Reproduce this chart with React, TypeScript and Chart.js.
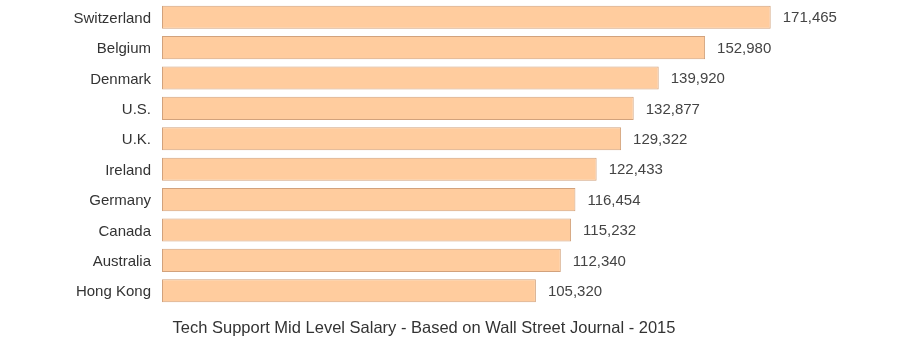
import React, { useEffect, useRef } from "react";
import { Chart, registerables } from "chart.js";

Chart.register(...registerables);

const countries = ["Switzerland", "Belgium", "Denmark", "U.S.", "U.K.", "Ireland", "Germany", "Canada", "Australia", "Hong Kong"];
const salaries = [171465, 152980, 139920, 132877, 129322, 122433, 116454, 115232, 112340, 105320];
const titleText = "Tech Support Mid Level Salary - Based on Wall Street Journal - 2015";

const valueLabels = {
  id: "valueLabels",
  afterDatasetsDraw(chart: any) {
    const ctx = chart.ctx;
    const meta = chart.getDatasetMeta(0);
    ctx.save();
    ctx.font = "15px 'Liberation Sans', Arial, sans-serif";
    ctx.fillStyle = "#444444";
    ctx.textAlign = "left";
    ctx.textBaseline = "middle";
    meta.data.forEach((bar: any, i: number) => {
      const v = chart.data.datasets[0].data[i] as number;
      ctx.fillText(v.toLocaleString("en-US"), bar.x + 12, bar.y + 1);
    });
    ctx.restore();
  },
};

const bottomTitle = {
  id: "bottomTitle",
  afterDraw(chart: any) {
    const ctx = chart.ctx;
    ctx.save();
    ctx.font = "16.5px 'Liberation Sans', Arial, sans-serif";
    ctx.fillStyle = "#333333";
    ctx.textAlign = "center";
    ctx.textBaseline = "middle";
    ctx.fillText(titleText, 424, 328);
    ctx.restore();
  },
};

export default function App() {
  const ref = useRef<HTMLCanvasElement>(null);
  useEffect(() => {
    document.body.style.margin = "0";
    const chart = new Chart(ref.current!, {
      type: "bar",
      data: {
        labels: countries,
        datasets: [
          {
            data: salaries,
            backgroundColor: "#FFCC9E",
            borderColor: "#D2A27C",
            borderWidth: 1,
            borderSkipped: false,
            categoryPercentage: 1,
            barPercentage: 0.76,
          },
        ],
      },
      options: {
        indexAxis: "y",
        animation: false,
        responsive: false,
        maintainAspectRatio: false,
        layout: { padding: { top: 2, right: 29, bottom: 40, left: 0 } },
        plugins: {
          legend: { display: false },
          tooltip: { enabled: false },
          title: { display: false },
        },
        scales: {
          x: { display: false, min: 0, max: 200000 },
          y: {
            afterFit(scale: any) {
              scale.width = 162;
              scale.paddingTop = 0;
              scale.paddingBottom = 0;
            },
            grid: { display: false, drawTicks: false },
            border: { display: false },
            ticks: {
              padding: 11,
              labelOffset: 1.5,
              color: "#333333",
              font: { family: "'Liberation Sans', Arial, sans-serif", size: 15 },
            },
          },
        },
      },
      plugins: [valueLabels, bottomTitle],
    });
    return () => chart.destroy();
  }, []);
  return (
    <div style={{ width: 901, height: 346 }}>
      <canvas ref={ref} width={901} height={346} style={{ display: "block" }} />
    </div>
  );
}
